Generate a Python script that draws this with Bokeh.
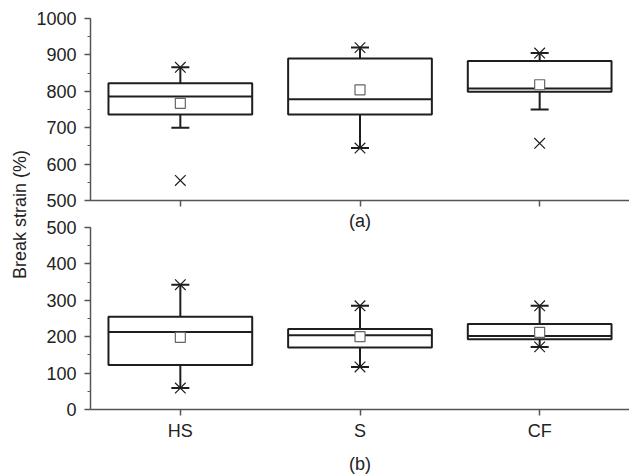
import math
from bokeh.plotting import figure
from bokeh.layouts import row, column
from bokeh.models import (ColumnDataSource, SingleIntervalTicker, Label, Range1d,
                          CustomJSTickFormatter)
from bokeh.transform import dodge
from bokeh.embed import file_html
from bokeh.resources import INLINE

categories = ["HS", "S", "CF"]

# Panel (a)
q1_a = [736, 736, 799]
median_a = [786, 778, 808]
q3_a = [822, 890, 883]
mean_a = [767, 804, 818]
whisk_lo_a = [700, 644, 750]
whisk_hi_a = [866, 920, 905]
min_a = [555, 644, 657]
max_a = [866, 920, 905]

# Panel (b)
q1_b = [122, 170, 193]
median_b = [213, 204, 202]
q3_b = [255, 221, 235]
mean_b = [198, 200, 212]
whisk_lo_b = [59, 117, 172]
whisk_hi_b = [343, 285, 285]
min_b = [59, 117, 172]
max_b = [343, 285, 285]

FONT = "Liberation Sans"
FS = "18px"
LINE = "#1e1e1e"
AXC = "#555555"
TXT = "#222222"


def make_panel(q1, med, q3, mean, wlo, whi, mn, mx, yr, ybounds, fh, show_labels, **kw):
    src = ColumnDataSource(dict(cat=categories, q1=q1, med=med, q3=q3, mean=mean,
                                wlo=wlo, whi=whi, mn=mn, mx=mx))
    p = figure(x_range=categories, y_range=Range1d(*yr), width=599,
               frame_height=fh, toolbar_location=None, output_backend="svg",
               min_border_left=60, min_border_right=0, **kw)
    p.outline_line_color = None
    p.xgrid.grid_line_color = None
    p.ygrid.grid_line_color = None
    p.x_range.range_padding = 0

    # whiskers
    p.segment(x0="cat", y0="q3", x1="cat", y1="whi", source=src, line_color=LINE, line_width=2)
    p.segment(x0="cat", y0="q1", x1="cat", y1="wlo", source=src, line_color=LINE, line_width=2)
    p.scatter(x="cat", y="whi", source=src, marker="dash", size=18, line_color=LINE, line_width=2)
    p.scatter(x="cat", y="wlo", source=src, marker="dash", size=18, line_color=LINE, line_width=2)
    # box
    p.vbar(x="cat", bottom="q1", top="q3", width=0.8, source=src, fill_color="white",
           line_color=LINE, line_width=2)
    p.segment(x0=dodge("cat", -0.4, range=p.x_range), y0="med",
              x1=dodge("cat", 0.4, range=p.x_range), y1="med",
              source=src, line_color=LINE, line_width=2)
    # min / max
    p.scatter(x="cat", y="mn", source=src, marker="x", size=15, line_color=LINE, line_width=1.2)
    p.scatter(x="cat", y="mx", source=src, marker="x", size=15, line_color=LINE, line_width=1.2)
    # mean
    p.scatter(x="cat", y="mean", source=src, marker="square", size=10, fill_color="white",
              line_color="#666666", line_width=1.2)

    ya = p.yaxis[0]
    ya.ticker = SingleIntervalTicker(interval=100, num_minor_ticks=2)
    ya.bounds = ybounds
    for ax in (p.xaxis[0], ya):
        ax.axis_line_color = AXC
        ax.axis_line_width = 1.5
        ax.major_tick_line_color = AXC
        ax.major_tick_line_width = 1.5
        ax.minor_tick_line_color = AXC
        ax.major_tick_in = 0
        ax.major_tick_out = 6
        ax.minor_tick_in = 0
        ax.minor_tick_out = 3
        ax.major_label_text_font = FONT
        ax.major_label_text_font_size = FS
        ax.major_label_text_color = TXT
        ax.axis_label_text_font = FONT
        ax.axis_label_text_font_size = FS
        ax.axis_label_text_color = TXT
        ax.axis_label_text_font_style = "normal"
    ya.major_label_standoff = 8
    if not show_labels:
        p.xaxis[0].formatter = CustomJSTickFormatter(code="return ''")
        p.xaxis[0].major_label_standoff = 0
    else:
        p.xaxis[0].major_label_standoff = 5
    return p


# top panel: frame spans exactly 500..1000
top = make_panel(q1_a, median_a, q3_a, mean_a, whisk_lo_a, whisk_hi_a, min_a, max_a,
                 (500, 1000), (500, 1000), 182, False,
                 min_border_top=18, min_border_bottom=12)
# bottom panel: frame extended upward so the "(a)" caption sits inside it
BOT_FH = 197
bottom = make_panel(q1_b, median_b, q3_b, mean_b, whisk_lo_b, whisk_hi_b, min_b, max_b,
                    (0, 500 * BOT_FH / 182), (0, 500), BOT_FH, True,
                    min_border_top=0, min_border_bottom=65)
bottom.xaxis[0].axis_label = "(b)"
bottom.xaxis[0].axis_label_standoff = 10

bottom.add_layout(Label(x=1.5, y=500, y_offset=7, text="(a)", text_align="center",
                        text_baseline="middle", text_font=FONT, text_font_size=FS,
                        text_color=TXT))

lab = figure(width=30, height=474, x_range=Range1d(0, 30), y_range=Range1d(0, 474),
             toolbar_location=None, output_backend="svg",
             min_border=0, min_border_left=0, min_border_right=0,
             min_border_top=0, min_border_bottom=0)
lab.axis.visible = False
lab.grid.visible = False
lab.outline_line_color = None
lab.add_layout(Label(x=19, y=474 - 214, text="Break strain (%)", angle=math.pi / 2,
                     text_align="center", text_baseline="middle", text_font=FONT,
                     text_font_size=FS, text_color=TXT))

layout = row(lab, column(top, bottom, spacing=0), spacing=0)

open("out.html", "w").write(file_html(layout, INLINE))
